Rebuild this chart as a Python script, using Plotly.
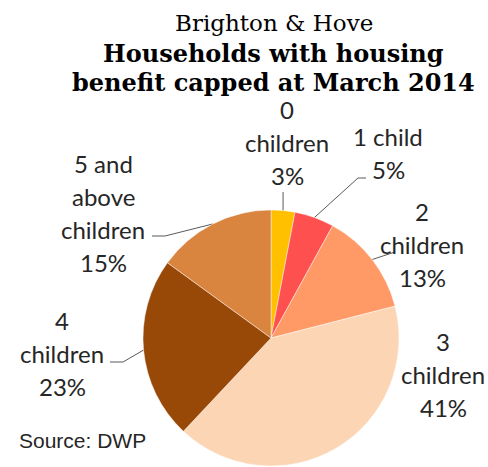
import math
import plotly.graph_objects as go

# Households with housing benefit capped, by number of children (per cent)
categories = ["0 children", "1 child", "2 children", "3 children", "4 children", "5 and above children"]
shares = [3, 5, 13, 41, 23, 15]
slice_colors = ["#FFC000", "#FF5050", "#FF9966", "#FCD5B5", "#984807", "#D9843F"]

# label text split into lines (category words, then the share)
label_lines = [
    ["0", "children"],
    ["1 child"],
    ["2", "children"],
    ["3", "children"],
    ["4", "children"],
    ["5 and", "above", "children"],
]

W, H = 488, 467
PIE_CX, PIE_CY, PIE_R = 271, 338, 128

LABEL_FONT = "Lato"
LABEL_SIZE = 24
LINE_GAP = 33
TEXT_COLOR = "#262626"

# centre x and first-line baseline for each label block
label_pos = [(287, 118), (388, 145), (422, 220), (443, 350), (62, 329), (103, 172)]

# leader line points on the label side (the pie end is derived from the slice angle)
leader_tail = [
    [(None, 192)],
    [(366, 178), (358, 178)],
    [(395, 252)],
    None,
    [(110, 362), (123, 362)],
    [(152, 236), (165, 236)],
]

fig = go.Figure()

fig.add_trace(go.Pie(
    labels=categories,
    values=shares,
    sort=False,
    direction="clockwise",
    rotation=0,
    marker=dict(colors=slice_colors, line=dict(color="rgba(255,255,255,0.55)", width=0.8)),
    textinfo="none",
    hoverinfo="label+percent",
    showlegend=False,
    domain=dict(
        x=[(PIE_CX - PIE_R) / W, (PIE_CX + PIE_R) / W],
        y=[(H - PIE_CY - PIE_R) / H, (H - PIE_CY + PIE_R) / H],
    ),
))

total = sum(shares)
cum = 0
annotations = []
for i, v in enumerate(shares):
    mid = (cum + v / 2) / total * 2 * math.pi
    cum += v
    ex = PIE_CX + PIE_R * math.sin(mid)
    ey = PIE_CY - PIE_R * math.cos(mid)

    tail = leader_tail[i]
    if tail:
        xs = [ex if p[0] is None else p[0] for p in tail] + [ex]
        ys = [p[1] for p in tail] + [ey]
        fig.add_trace(go.Scatter(
            x=xs, y=ys, mode="lines",
            line=dict(color="#595959", width=1),
            hoverinfo="skip", showlegend=False,
        ))

    cx, base = label_pos[i]
    lines = label_lines[i] + [f"{v}%"]
    for k, txt in enumerate(lines):
        annotations.append(dict(
            x=cx, y=base + k * LINE_GAP - 0.36 * LABEL_SIZE,
            xref="x", yref="y", text=txt, showarrow=False,
            xanchor="center", yanchor="middle",
            font=dict(family=LABEL_FONT, size=LABEL_SIZE, color=TEXT_COLOR),
        ))

# chart title
TITLE_FONT = "DejaVu Serif"
title_rows = [
    ("Brighton &amp; Hove", 31, 23),
    ("<b>Households with housing</b>", 62, 24),
    ("<b>benefit capped at March 2014</b>", 91, 24),
]
for txt, base, size in title_rows:
    annotations.append(dict(
        x=273.5, y=base - 0.36 * size, xref="x", yref="y", text=txt, showarrow=False,
        xanchor="center", yanchor="middle",
        font=dict(family=TITLE_FONT, size=size, color="#000000"),
    ))

annotations.append(dict(
    x=17, y=448 - 0.36 * 21, xref="x", yref="y", text="Source: DWP", showarrow=False,
    xanchor="left", yanchor="middle",
    font=dict(family="Liberation Sans", size=21, color=TEXT_COLOR),
))

fig.update_layout(
    width=W, height=H,
    margin=dict(l=0, r=0, t=0, b=0),
    paper_bgcolor="white", plot_bgcolor="rgba(0,0,0,0)",
    xaxis=dict(range=[0, W], visible=False, fixedrange=True),
    yaxis=dict(range=[H, 0], visible=False, fixedrange=True),
    annotations=annotations,
)

fig.write_html("out.html")
